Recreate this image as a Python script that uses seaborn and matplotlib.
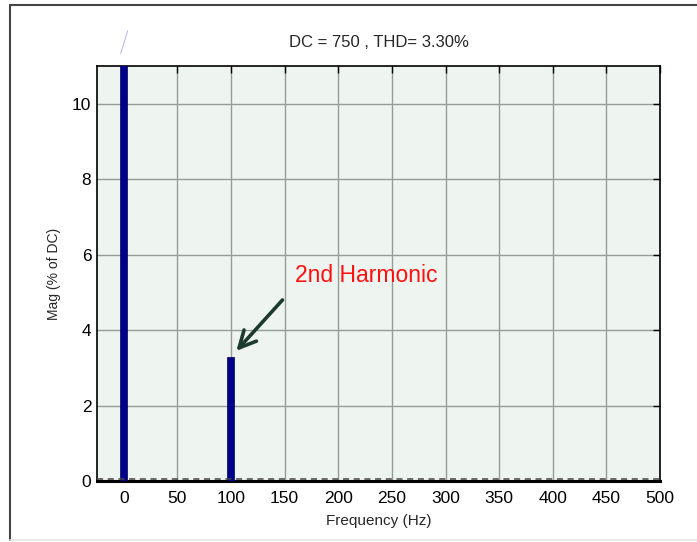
import matplotlib
matplotlib.use("Agg")
import matplotlib.pyplot as plt
from matplotlib.lines import Line2D
import seaborn as sns
import pandas as pd

# ---- data ----
freq_hz = [0, 100]
mag_pct = [100.0, 3.3]
x_ticks = [0, 50, 100, 150, 200, 250, 300, 350, 400, 450, 500]
y_ticks = [0, 2, 4, 6, 8, 10]
title_text = "DC = 750 , THD= 3.30%"
annot_text = "2nd Harmonic"
arrow_head = (105, 3.45)
arrow_tail = (148, 4.80)
annot_text_xy = (160, 5.45)

sns.set_style("white")
plt.rcParams["font.family"] = ["Liberation Sans", "DejaVu Sans"]

fig = plt.figure(figsize=(6.97, 5.42), dpi=100)
ax = fig.add_axes([0.139, 0.1125, 0.808, 0.7655])
ax.set_facecolor("#eef5f0")

df = pd.DataFrame({"Frequency": freq_hz, "Mag": mag_pct})
sns.barplot(data=df, x="Frequency", y="Mag", native_scale=True, width=0.065,
            color="#000088", saturation=1, edgecolor="#00005a", linewidth=0.5,
            errorbar=None, ax=ax, zorder=3)

ax.set_xlim(-25, 500)
ax.set_ylim(0, 11)
ax.set_xticks(x_ticks)
ax.set_yticks(y_ticks)
ax.grid(True, color="#979c98", lw=1.0, zorder=0)
ax.set_axisbelow(True)
ax.tick_params(direction="in", length=5, width=1, top=True, right=True,
               labelsize=12.5, colors="black")
ax.tick_params(axis="y", pad=4)
ax.tick_params(axis="x", pad=7)
for s in ax.spines.values():
    s.set_color("black")
    s.set_linewidth(1.2)
ax.spines["bottom"].set_linewidth(2.2)

ax.axhline(0.06, color="#444444", lw=1.1, ls=(0, (4, 3)), zorder=4)

ax.set_title(title_text, fontsize=12, pad=14)
ax.set_xlabel("Frequency (Hz)", fontsize=11, labelpad=6)
ax.set_ylabel("Mag (% of DC)", fontsize=10, labelpad=8)

ax.text(annot_text_xy[0], annot_text_xy[1], annot_text, color="#ff1010",
        fontsize=16.5, ha="left", va="center", zorder=6)
ax.annotate("", xy=arrow_head, xytext=arrow_tail,
            arrowprops=dict(arrowstyle="->", color="#1d3b2c", lw=2.6,
                            mutation_scale=30, shrinkA=0, shrinkB=0),
            zorder=6)

# small artifact stroke above the DC bar
ax.plot([-2.8, 3.7], [11.33, 11.94], color="#b8b0ee", lw=0.7, clip_on=False)

# outer figure frame
fig.add_artist(Line2D([0.0143, 0.0143], [0.0037, 0.9908], color="#444444", lw=1.5))
fig.add_artist(Line2D([0.0143, 1.0], [0.9908, 0.9908], color="#444444", lw=1.5))
fig.add_artist(Line2D([0.0143, 1.0], [0.0037, 0.0037], color="#e4e4e4", lw=1.2))

fig.savefig("out.png", dpi=100)
